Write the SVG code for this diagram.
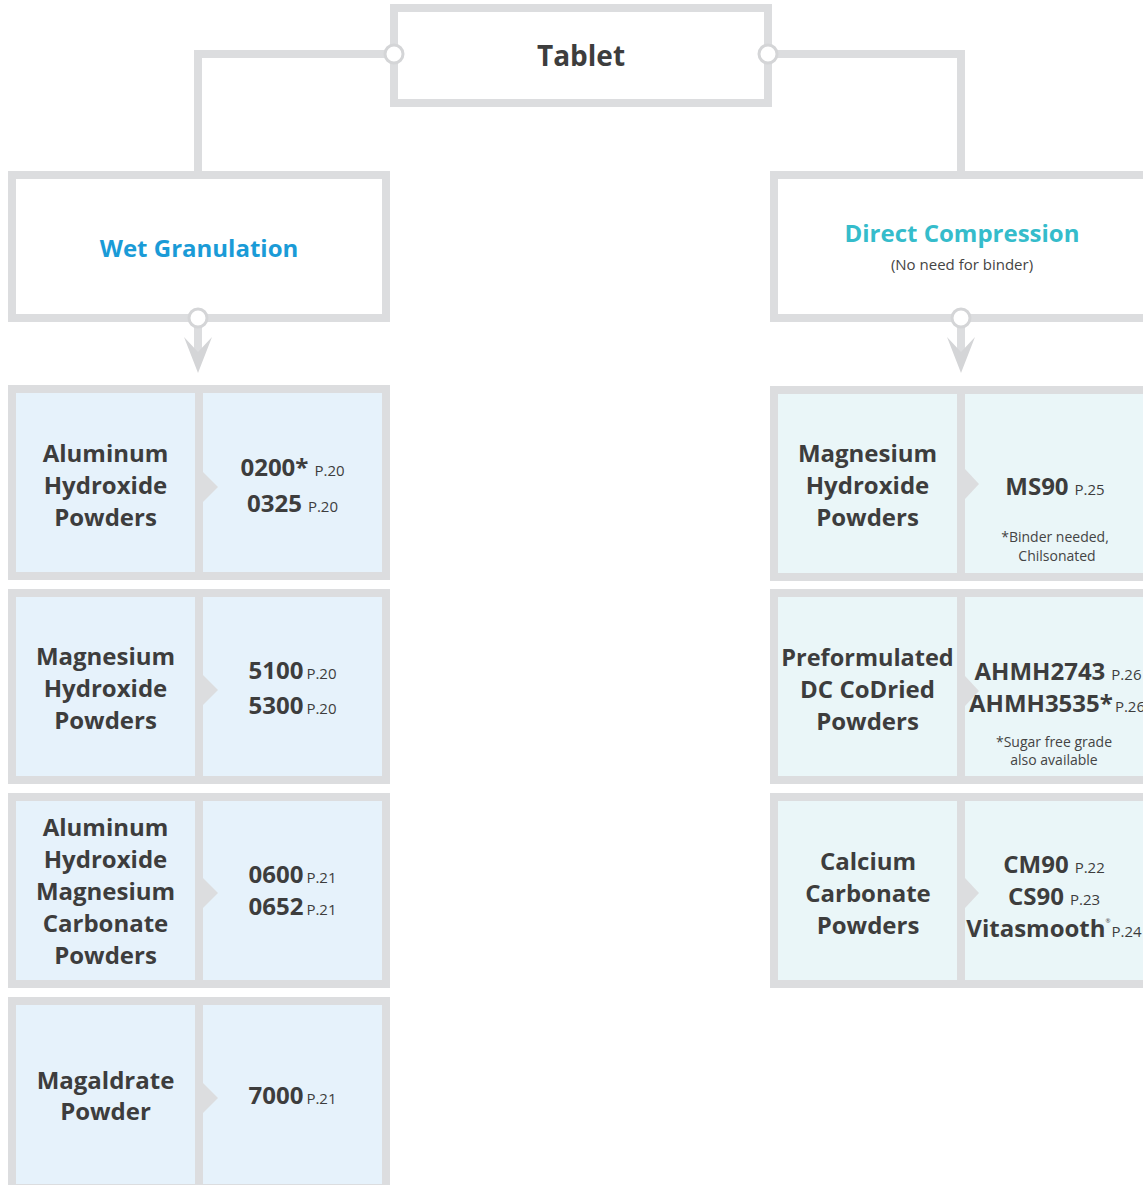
<svg xmlns="http://www.w3.org/2000/svg" width="1143" height="1185" viewBox="0 0 1143 1185">
<style>
.box{fill:#fff;stroke:#dcdddf;stroke-width:8}
.frame{fill:#dcdddf}
.cl{fill:#e6f2fb}
.cr{fill:#eaf6f8}
.tri{fill:#dcdddf}
.wire{fill:none;stroke:#dcdddf;stroke-width:8}
.dot{fill:#fff;stroke:#d4d5d7;stroke-width:3}
.ah{fill:#d4d5d7}
text{font-family:"Open Sans","Noto Sans","Liberation Sans",sans-serif;text-anchor:middle;fill:#3d3d3d}
.t{font-size:28px;font-weight:700}
.h{font-size:24px;font-weight:700}
.n{font-size:24px;font-weight:700}
.c{font-size:24px;font-weight:700}
.pg{font-size:15px;font-weight:400}
.note{font-size:14px;font-weight:400;fill:#444}
.sub{font-size:15px;font-weight:400;fill:#444}
</style>

<g id="connectors">
  <path class="wire" d="M394,54 H198 V175"/>
  <path class="wire" d="M768,54 H961 V175"/>
  <path class="wire" d="M198,318 V356"/>
  <path class="ah" d="M184,337 L198,373 L212,337 L198,352 Z"/>
  <path class="wire" d="M961,318 V356"/>
  <path class="ah" d="M947,337 L961,373 L975,337 L961,352 Z"/>
</g>

<g id="tablet">
  <rect class="box" x="394" y="8" width="374" height="95"/>
  <text class="t" x="581" y="66">Tablet</text>
</g>

<g id="wet-granulation">
  <rect class="box" x="12" y="175" width="374" height="143"/>
  <text class="h" x="199" y="257" style="fill:#1a9bd7">Wet Granulation</text>
</g>

<g id="direct-compression">
  <rect class="box" x="774" y="175" width="374" height="143"/>
  <text class="h" x="962" y="242" style="fill:#35bccb">Direct Compression</text>
  <text class="sub" x="962" y="270">(No need for binder)</text>
</g>

<g id="ports">
  <circle class="dot" cx="394" cy="54" r="9"/>
  <circle class="dot" cx="768" cy="54" r="9"/>
  <circle class="dot" cx="198" cy="318" r="9"/>
  <circle class="dot" cx="961" cy="318" r="9"/>
</g>

<g id="wet-row1">
  <rect class="frame" x="8" y="385" width="382" height="195"/>
  <rect class="cl" x="16" y="393" width="179" height="179"/>
  <rect class="cl" x="203" y="393" width="179" height="179"/>
  <polygon class="tri" points="203,472 218,487 203,502"/>
  <text class="n" x="105.5" y="462">Aluminum</text>
  <text class="n" x="105.5" y="494">Hydroxide</text>
  <text class="n" x="105.5" y="526">Powders</text>
  <text class="c" x="292.5" y="476">0200*<tspan class="pg" dx="6">P.20</tspan></text>
  <text class="c" x="292.5" y="512">0325<tspan class="pg" dx="6">P.20</tspan></text>
</g>

<g id="wet-row2">
  <rect class="frame" x="8" y="589" width="382" height="195"/>
  <rect class="cl" x="16" y="597" width="179" height="179"/>
  <rect class="cl" x="203" y="597" width="179" height="179"/>
  <polygon class="tri" points="203,675 218,690 203,705"/>
  <text class="n" x="105.5" y="665">Magnesium</text>
  <text class="n" x="105.5" y="697">Hydroxide</text>
  <text class="n" x="105.5" y="729">Powders</text>
  <text class="c" x="292.5" y="679">5100<tspan class="pg" dx="3">P.20</tspan></text>
  <text class="c" x="292.5" y="714">5300<tspan class="pg" dx="3">P.20</tspan></text>
</g>

<g id="wet-row3">
  <rect class="frame" x="8" y="793" width="382" height="195"/>
  <rect class="cl" x="16" y="801" width="179" height="179"/>
  <rect class="cl" x="203" y="801" width="179" height="179"/>
  <polygon class="tri" points="203,878 218,893 203,908"/>
  <text class="n" x="105.5" y="836">Aluminum</text>
  <text class="n" x="105.5" y="868">Hydroxide</text>
  <text class="n" x="105.5" y="900">Magnesium</text>
  <text class="n" x="105.5" y="932">Carbonate</text>
  <text class="n" x="105.5" y="964">Powders</text>
  <text class="c" x="292.5" y="883">0600<tspan class="pg" dx="3">P.21</tspan></text>
  <text class="c" x="292.5" y="915">0652<tspan class="pg" dx="3">P.21</tspan></text>
</g>

<g id="wet-row4">
  <rect class="frame" x="8" y="997" width="382" height="195"/>
  <rect class="cl" x="16" y="1005" width="179" height="179"/>
  <rect class="cl" x="203" y="1005" width="179" height="179"/>
  <polygon class="tri" points="203,1083 218,1098 203,1113"/>
  <text class="n" x="105.5" y="1089">Magaldrate</text>
  <text class="n" x="105.5" y="1120">Powder</text>
  <text class="c" x="292.5" y="1104">7000<tspan class="pg" dx="3">P.21</tspan></text>
</g>

<g id="dc-row1">
  <rect class="frame" x="770" y="386" width="382" height="195"/>
  <rect class="cr" x="778" y="394" width="179" height="179"/>
  <rect class="cr" x="965" y="394" width="179" height="179"/>
  <polygon class="tri" points="965,469 979,484 965,499"/>
  <text class="n" x="867.5" y="462">Magnesium</text>
  <text class="n" x="867.5" y="494">Hydroxide</text>
  <text class="n" x="867.5" y="526">Powders</text>
  <text class="c" x="1055" y="495">MS90<tspan class="pg" dx="6">P.25</tspan></text>
  <text class="note" x="1055" y="542">*Binder needed,</text>
  <text class="note" x="1057" y="561">Chilsonated</text>
</g>

<g id="dc-row2">
  <rect class="frame" x="770" y="589" width="382" height="195"/>
  <rect class="cr" x="778" y="597" width="179" height="179"/>
  <rect class="cr" x="965" y="597" width="179" height="179"/>
  <polygon class="tri" points="965,676 979,691 965,706"/>
  <text class="n" x="867.5" y="666" style="font-size:23.5px">Preformulated</text>
  <text class="n" x="867.5" y="698">DC CoDried</text>
  <text class="n" x="867.5" y="730">Powders</text>
  <text class="c" x="1058" y="680">AHMH2743<tspan class="pg" dx="6">P.26</tspan></text>
  <text class="c" x="1057" y="712">AHMH3535*<tspan class="pg" dx="2">P.26</tspan></text>
  <text class="note" x="1054" y="747">*Sugar free grade</text>
  <text class="note" x="1054" y="765">also available</text>
</g>

<g id="dc-row3">
  <rect class="frame" x="770" y="793" width="382" height="195"/>
  <rect class="cr" x="778" y="801" width="179" height="179"/>
  <rect class="cr" x="965" y="801" width="179" height="179"/>
  <polygon class="tri" points="965,878 979,893 965,908"/>
  <text class="n" x="868" y="870">Calcium</text>
  <text class="n" x="868" y="902">Carbonate</text>
  <text class="n" x="868" y="934">Powders</text>
  <text class="c" x="1054" y="873">CM90<tspan class="pg" dx="6">P.22</tspan></text>
  <text class="c" x="1054" y="905">CS90<tspan class="pg" dx="6">P.23</tspan></text>
  <text class="c" x="1054" y="937">Vitasmooth<tspan style="font-size:6px;font-weight:400" dy="-14">®</tspan><tspan class="pg" dy="14" dx="1">P.24</tspan></text>
</g>
</svg>
